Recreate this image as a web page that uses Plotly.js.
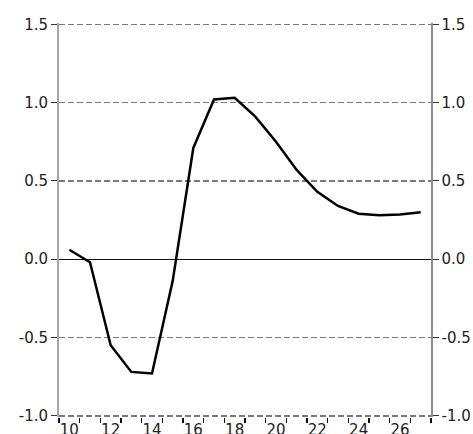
<!DOCTYPE html>
<html>
<head>
<meta charset="utf-8">
<script src="https://cdn.plot.ly/plotly-3.0.1.min.js"></script>
<style>html,body{margin:0;padding:0;background:#fff;}#chart{width:473px;height:434px;}</style>
</head>
<body>
<div id="chart"></div>
<script>
const xValues = [10, 11, 12, 13, 14, 15, 16, 17, 18, 19, 20, 21, 22, 23, 24, 25, 26, 27];
const yValues = [0.06, -0.02, -0.55, -0.72, -0.73, -0.14, 0.71, 1.02, 1.03, 0.91, 0.75, 0.57, 0.43, 0.34, 0.29, 0.28, 0.285, 0.30];
const xTickVals = [10, 12, 14, 16, 18, 20, 22, 24, 26];
const xTickText = ['10', '12', '14', '16', '18', '20', '22', '24', '26'];
const xBoundaries = [9.5, 10.5, 11.5, 12.5, 13.5, 14.5, 15.5, 16.5, 17.5, 18.5, 19.5, 20.5, 21.5, 22.5, 23.5, 24.5, 25.5, 26.5, 27.5];
const yTickVals = [-1.0, -0.5, 0.0, 0.5, 1.0, 1.5];
const yTickText = ['-1.0', '-0.5', '0.0', '0.5', '1.0', '1.5'];

const font = {family: 'DejaVu Sans, Verdana, sans-serif', size: 15, color: '#222'};
const gridColor = '#7a7a7a';

const traces = [
  {x: xValues, y: yValues, type: 'scatter', mode: 'lines',
   line: {color: '#000', width: 2.5}, hoverinfo: 'skip', xaxis: 'x', yaxis: 'y'},
  {x: xValues, y: yValues, type: 'scatter', mode: 'lines', opacity: 0,
   line: {color: '#000', width: 0}, hoverinfo: 'skip', xaxis: 'x2', yaxis: 'y2', showlegend: false}
];

// small padding so plotly keeps the edge gridlines
const yRange = [-1.008, 1.508];
const xRange = [9.5, 27.5];

const layout = {
  width: 473, height: 434,
  margin: {l: 59, r: 42, t: 23, b: 17, pad: 0},
  paper_bgcolor: '#fff', plot_bgcolor: '#fff',
  showlegend: false,
  font: font,
  xaxis: {
    range: xRange, tickvals: xBoundaries, ticktext: xBoundaries.map(() => ''),
    showticklabels: true,
    ticks: 'outside', ticklen: 5, tickcolor: '#111', tickwidth: 1.5,
    showgrid: false, zeroline: false, showline: false
  },
  xaxis2: {
    range: xRange, tickvals: xTickVals, ticktext: xTickText,
    overlaying: 'x', side: 'bottom',
    ticks: '', ticklabelstandoff: 2,
    showgrid: false, zeroline: false, showline: false,
    tickfont: font
  },
  yaxis: {
    range: yRange, tickvals: yTickVals, ticktext: yTickText,
    ticks: 'outside', ticklen: 6, tickcolor: '#333', tickwidth: 1,
    showgrid: true, gridcolor: gridColor, gridwidth: 1.5, griddash: '6px,3px',
    zeroline: true, zerolinecolor: '#111', zerolinewidth: 1.3,
    showline: true, linecolor: '#a6a6a6', linewidth: 2,
    tickfont: font
  },
  yaxis2: {
    range: yRange, tickvals: yTickVals, ticktext: yTickText,
    overlaying: 'y', side: 'right',
    ticks: 'outside', ticklen: 6, tickcolor: '#333', tickwidth: 1,
    showgrid: false, zeroline: false,
    showline: true, linecolor: '#8c8c8c', linewidth: 1.5,
    tickfont: font
  }
};

Plotly.newPlot('chart', traces, layout, {displayModeBar: false, staticPlot: true});
</script>
</body>
</html>
